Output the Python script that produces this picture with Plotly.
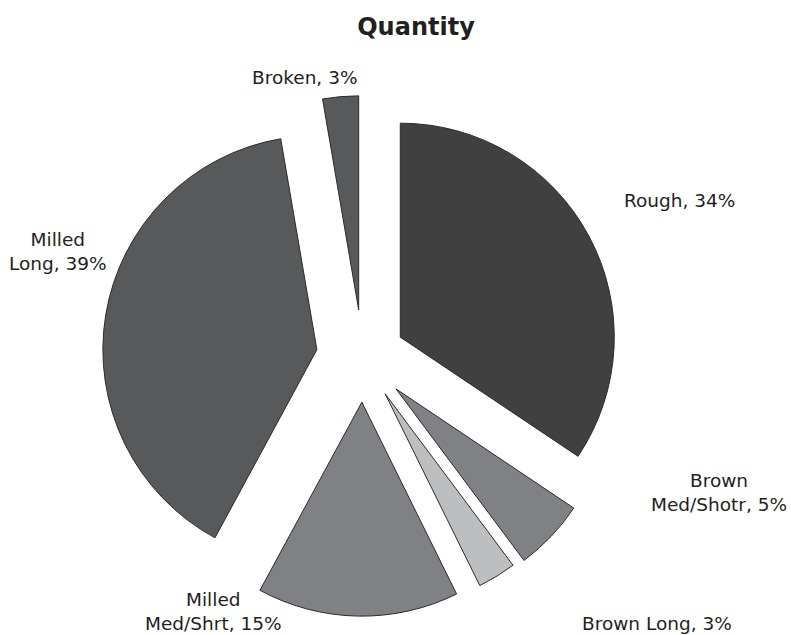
import plotly.graph_objects as go

# ---- data ----
categories = ["Rough", "Brown Med/Shotr", "Brown Long", "Milled Med/Shrt", "Milled Long", "Broken"]
label_text = ["Rough", "Brown<br>Med/Shotr", "Brown Long", "Milled<br>Med/Shrt", "Milled<br>Long", "Broken"]
values = [34.4, 5.4, 2.9, 15.2, 39.4, 2.7]

# ---- styling ----
colors = ["#404040", "#808184", "#bcbec0", "#808184", "#58595b", "#58595b"]
pulls = [0.199, 0.215, 0.20, 0.21, 0.217, 0.222]

W, H = 791, 635
# pie geometry in pixels (layout only)
R_PX = 214.0
CX, CY = 362.7, 357.2
half = R_PX * (1 + max(pulls))
dom_x = [(CX - half) / W, (CX + half) / W]
dom_y = [1 - (CY + half) / H, 1 - (CY - half) / H]

# label anchor positions in pixels (layout only)
label_px = [(679, 201), (718.5, 492), (656.5, 623), (213, 611), (57.5, 251.5), (304, 77.5)]

total = sum(values)
texts = [f"{t}, {round(v / total * 100)}%" for t, v in zip(label_text, values)]

fig = go.Figure()
fig.add_trace(go.Pie(
    labels=categories,
    values=values,
    sort=False,
    direction="clockwise",
    rotation=0,
    pull=pulls,
    marker=dict(colors=colors, line=dict(color="#2b2b2b", width=1)),
    textinfo="none",
    hoverinfo="label+percent",
    showlegend=False,
    domain=dict(x=dom_x, y=dom_y),
))

annotations = []
for txt, (px, py) in zip(texts, label_px):
    annotations.append(dict(
        text=txt, x=px / W, y=1 - py / H, xref="paper", yref="paper",
        xanchor="center", yanchor="middle", showarrow=False, align="center",
        font=dict(family="DejaVu Sans", size=18.5, color="#231f20"),
    ))

fig.update_layout(
    width=W, height=H,
    margin=dict(l=0, r=0, t=0, b=0),
    paper_bgcolor="white", plot_bgcolor="white",
    title=dict(text="<b>Quantity</b>", x=416 / W, xanchor="center",
               y=1 - 27 / H, yanchor="middle",
               font=dict(family="DejaVu Sans", size=24, color="#231f20")),
    annotations=annotations,
)

fig.write_html("out.html")
